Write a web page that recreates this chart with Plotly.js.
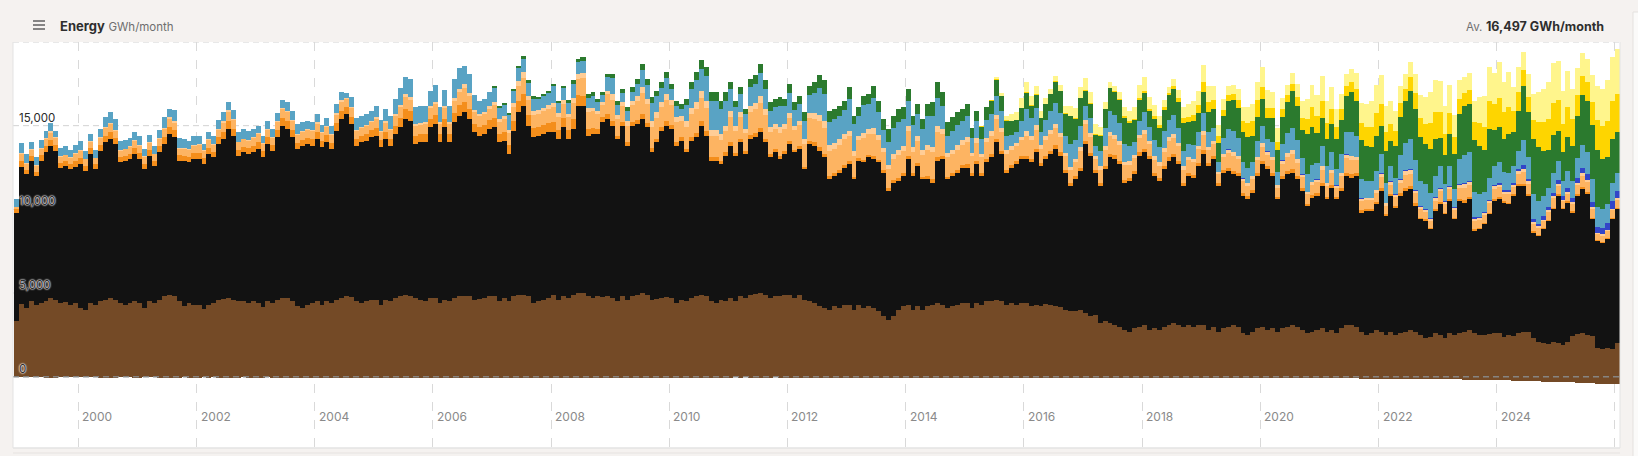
<!DOCTYPE html>
<html>
<head>
<meta charset="utf-8">
<script src="https://cdn.plot.ly/plotly-3.0.1.min.js"></script>
<style>
html,body{margin:0;padding:0;background:#F5F2F0;overflow:hidden;}
#chart{width:1638px;height:456px;}
</style>
</head>
<body>
<div id="chart"></div>
<script>
// ---------- DATA (GWh per month) ----------
// Monthly series from Dec 1998 to Jan 2026 unless a start month is given.
const seriesStart = [1998, 12];

const brownCoal = [
 3300,
 4360,4100,4500,4300,4400,4500,4700,4600,4400,4450,4300,4400, // 1999
 4100,4000,4400,4300,4500,4600,4700,4600,4400,4300,4400,4500, // 2000
 4400,4100,4500,4400,4600,4800,4900,4850,4500,4200,4400,4300, // 2001
 4300,4050,4300,4400,4600,4650,4700,4600,4500,4500,4400,4500, // 2002
 4400,4150,4500,4400,4600,4700,4700,4500,4200,4100,4300,4400, // 2003
 4500,4300,4550,4400,4600,4700,4800,4750,4500,4400,4500,4600, // 2004
 4600,4300,4600,4500,4700,4800,4900,4850,4700,4600,4500,4700, // 2005
 4700,4400,4600,4500,4700,4800,4850,4800,4600,4650,4700,4800, // 2006
 4800,4500,4700,4500,4800,4900,4900,4800,4400,4500,4600,4700, // 2007
 4900,4600,4800,4700,4900,5000,5000,4850,4700,4800,4750,4850, // 2008
 4700,4500,4800,4600,4800,4900,5000,4900,4600,4650,4700,4750, // 2009
 4700,4400,4600,4500,4700,4850,4900,4800,4500,4400,4600,4500, // 2010
 4700,4500,4800,4700,4900,4950,5000,4900,4700,4800,4850,4900, // 2011
 4900,4700,4900,4600,4500,4400,4200,4100,4000,4200,4100,4300, // 2012
 4300,4000,4300,4100,4200,4100,3900,3600,3400,3600,4000,4200, // 2013
 4300,4000,4200,4000,4200,4300,4400,4300,4100,4200,4300,4400, // 2014
 4400,4100,4400,4300,4500,4500,4600,4500,4300,4400,4300,4400, // 2015
 4400,4200,4300,4200,4350,4300,4250,4150,4000,3900,3950,4000, // 2016
 3800,3600,3700,3200,3300,3200,3100,3000,2800,2700,2900,3000, // 2017
 3100,2800,2900,2800,3000,3100,3200,3100,3000,3100,3000,3100, // 2018
 3100,2800,3000,2700,2900,3000,3100,3000,2600,2500,2700,2900, // 2019
 3000,2800,2900,2700,2900,3000,3100,3000,2800,2600,2700,2800, // 2020
 2900,2700,2800,2600,2900,3100,3100,3000,2700,2500,2600,2800, // 2021
 2700,2500,2700,2500,2600,2700,2800,2700,2500,2300,2400,2600, // 2022
 2500,2300,2600,2500,2600,2700,2800,2600,2500,2500,2550,2600, // 2023
 2600,2400,2500,2450,2600,2700,2650,2300,2100,2000,1950,2050, // 2024
 2000,1900,2050,2450,2550,2600,2500,2450,1700,1650,1700,1650, // 2025
 2000                                                          // 2026
];

const blackCoal = [
 6500,
 8180,8000,8360,7700,8500,8900,9060,8900,8100,8150,8100,8160,
 8600,8300,8900,8100,9000,9400,9500,9300,8400,8600,8600,8800,
 8600,8300,8700,8200,8800,9100,9600,9450,8400,8700,8400,8700,
 8700,8650,9000,8700,9300,9550,10100,9800,8700,8900,8900,8900,
 9200,8950,9400,9100,9700,10300,10100,9800,9400,9700,9600,9400,
 9700,9400,9450,9200,10100,10700,10900,10350,9300,9600,9600,9700,
 9800,9400,9600,9300,9800,10100,10500,10450,9200,9400,9500,10200,
 10400,9600,10300,9500,10500,10800,10950,10600,10000,9750,9800,10000,
 10100,9500,9400,8800,9900,10900,11300,10200,9900,9900,9900,9900,
 9700,9600,10100,9500,9900,11200,11200,9550,9800,9700,10450,10550,
 10300,9700,10200,9200,10200,10200,10400,10000,8800,9350,10000,10250,
 10100,9400,9500,8900,9400,9450,10100,9600,8400,8500,8100,8700,
 9100,8700,9200,8600,9300,9350,9600,9100,8400,8600,8150,8400,
 9000,8700,8700,7800,9400,9400,9300,9000,7800,7800,8100,8200,
 8400,7800,8600,8700,8900,8900,8900,8600,7700,8000,7700,7800,
 8700,8000,8400,7800,7600,7300,8500,8700,7700,7800,7900,8100,
 8100,7900,8300,7700,8300,8600,9400,8800,7900,8100,8400,8600,
 8600,8600,9100,8400,8650,9000,9350,9050,8200,7500,7850,8300,
 10100,9600,8500,8200,9100,9900,9900,9700,8800,9000,9200,10200,
 10300,10200,9100,8900,9400,9800,9900,9600,8400,8900,8900,9500,
 10200,9800,10000,8700,9300,9300,9000,9000,8200,8100,8300,9100,
 9700,9600,9100,7900,8900,9100,9100,8800,8300,7600,8000,8000,
 8500,7900,8500,8000,8200,8900,8800,9000,7100,7400,7300,7500,
 8400,7100,8100,7600,8200,8400,8400,7500,6900,7000,6400,7300,
 7800,7400,7900,6900,7900,7700,7800,6100,6300,6600,7150,7900,
 8000,8000,7800,8350,8800,8700,8150,6300,6300,6800,7350,7950,
 8800,8100,8350,7350,8250,8600,8400,6950,6400,6350,6500,7750,
 8000
];

const gasSteam = [
 250,
 320,280,300,260,330,380,400,360,280,270,300,320,
 340,300,350,300,360,400,420,380,320,300,330,350,
 360,320,340,300,380,420,400,420,330,310,320,340,
 380,340,380,340,400,440,460,430,360,350,360,380,
 400,360,400,360,420,460,460,430,380,370,380,400,
 420,380,420,380,440,480,420,430,400,390,400,420,
 450,420,450,420,500,560,600,580,500,480,500,520,
 520,480,520,480,560,620,640,600,520,500,520,540,
 560,520,540,520,600,680,720,640,560,540,560,580,
 600,540,560,520,620,650,600,400,350,320,300,320,
 250,200,200,200,220,250,280,250,250,230,230,250,
 230,200,200,220,250,270,280,260,200,200,200,220,
 200,180,200,180,220,240,250,230,200,180,180,200,
 180,150,170,160,180,200,220,220,180,170,170,180,
 170,150,150,160,170,180,170,160,150,160,170,170,
 170,150,160,150,180,200,200,180,150,150,160,160,
 200,160,180,160,180,200,220,200,180,170,170,180,
 200,180,200,170,190,210,220,200,170,160,170,190,
 200,190,160,170,200,230,220,210,180,170,180,200,
 200,170,170,170,200,220,230,210,180,170,170,180,
 220,180,180,150,180,200,210,200,170,170,180,200,
 200,170,170,140,170,200,210,190,160,140,150,160,
 180,150,160,130,170,200,200,180,140,130,130,140,
 150,120,130,120,150,180,180,150,110,100,100,120,
 120,100,110,100,130,150,150,120,100,100,110,120,
 110,90,100,100,120,140,130,100,80,80,90,100,
 90,80,90,90,110,130,120,100,70,70,80,90,
 90
];

const gasCCGT = [
 100,
 420,360,380,340,380,420,430,400,350,360,380,400,
 420,380,400,360,400,450,460,430,380,380,400,420,
 440,400,420,380,420,480,500,470,400,400,420,440,
 460,420,450,400,460,520,540,500,440,430,440,460,
 480,440,470,430,490,530,540,520,460,450,460,480,
 500,460,490,450,510,540,480,520,480,470,480,500,
 550,500,530,500,580,650,700,680,600,580,600,620,
 650,600,640,600,700,780,800,760,680,650,660,680,
 750,700,740,720,820,900,950,880,800,780,800,820,
 900,800,850,800,950,950,1040,1010,1000,880,750,1150,
 1300,1000,950,1000,1000,1100,1300,1150,1300,1250,1200,1300,
 1200,1200,1000,1300,1350,1450,1400,1400,1300,1300,1250,1250,
 1500,1300,1300,1100,1400,1450,1500,1400,1300,1250,1400,1300,
 1400,1200,1250,1350,1350,1400,1550,1550,1500,1450,1500,1500,
 1500,1250,1100,1300,1250,1350,1200,1050,1150,1250,1350,1300,
 1500,1300,1350,1300,1550,1600,1550,1350,1150,1150,1200,1200,
 1300,1000,1100,950,1050,1100,1150,1100,950,900,900,950,
 1200,1150,1150,850,950,1000,1050,950,800,800,850,1000,
 1000,950,650,800,950,1050,1000,950,850,800,800,850,
 900,750,800,750,850,950,950,850,800,750,750,800,
 900,750,700,550,750,850,900,800,700,650,650,750,
 850,700,750,550,750,850,900,800,650,550,600,650,
 800,650,700,550,700,850,850,750,550,500,500,550,
 700,500,550,500,650,800,750,600,500,450,420,500,
 650,500,600,450,650,750,700,500,450,450,550,600,
 600,450,500,450,600,700,600,450,400,400,450,550,
 500,400,450,450,550,650,600,500,350,350,400,450,
 450
];

const gasOCGT = [
 20,
 60,40,40,30,40,60,70,50,30,30,40,60,
 60,50,50,30,50,60,80,60,40,40,50,60,
 60,50,50,30,60,80,100,80,40,40,50,60,
 70,60,60,40,70,90,110,80,50,50,60,70,
 70,60,60,50,70,90,100,80,60,50,60,70,
 80,60,70,50,80,90,60,80,70,60,70,80,
 100,80,90,80,120,150,180,160,120,110,120,150,
 150,120,140,120,170,220,240,200,150,140,150,170,
 200,160,180,180,240,300,330,260,200,190,200,220,
 250,200,220,200,280,280,300,220,200,170,150,230,
 350,250,250,250,250,300,350,300,350,330,300,350,
 300,300,250,350,350,400,400,400,350,350,330,330,
 350,300,300,250,350,350,400,350,300,300,350,300,
 300,250,280,300,300,330,380,380,350,330,330,330,
 330,280,250,300,280,320,280,240,270,300,320,300,
 320,280,300,280,330,350,330,290,250,250,260,260,
 300,230,260,220,250,270,280,260,220,200,200,220,
 280,270,270,200,220,240,250,230,190,190,200,240,
 250,230,160,200,230,260,250,230,200,190,190,200,
 220,180,190,180,210,230,230,210,190,180,180,190,
 250,200,180,140,190,220,230,200,170,160,160,190,
 220,180,190,140,190,220,230,200,170,150,160,170,
 200,170,180,140,180,220,220,190,140,130,130,140,
 180,130,150,130,170,220,200,160,130,120,110,130,
 150,120,140,110,160,190,180,130,110,110,130,150,
 140,110,120,110,150,180,150,110,100,100,110,130,
 120,100,110,110,140,170,160,130,90,90,100,110,
 110
];

const hydro = [
 450,
 600,500,450,520,480,450,500,400,500,540,420,500,
 550,480,420,460,520,580,650,600,560,520,480,500,
 500,450,430,480,500,620,500,650,600,560,520,520,
 450,400,450,480,520,560,500,520,600,560,520,480,
 450,400,420,450,500,480,520,560,580,540,500,470,
 500,450,480,500,560,500,300,600,700,680,620,560,
 700,650,750,800,900,1000,1000,1050,1000,1030,980,900,
 1000,900,950,1000,1150,1200,1100,1100,900,800,750,800,
 850,700,700,900,700,750,800,800,750,700,700,720,
 1000,620,700,620,870,720,750,650,730,550,420,800,
 950,600,550,600,550,750,1000,850,1050,950,850,950,
 650,700,450,950,1150,1300,1300,1500,1700,1700,1500,1500,
 1350,1150,1100,850,1150,1150,1400,1200,1000,1000,1250,1100,
 1200,950,1000,1050,1100,1250,1600,1650,1400,1450,1400,1450,
 1900,1600,1200,1650,1500,1800,1350,1100,1350,1550,1700,1650,
 1500,1300,1300,1250,1700,1800,1700,1350,1050,1150,1200,1150,
 1300,900,1050,900,1050,1000,1100,1000,850,700,650,900,
 1300,1050,1050,800,1000,1100,1250,1150,1050,1350,1100,1250,
 850,900,600,900,1100,1250,1150,1050,1050,900,750,850,
 1100,800,1000,900,1000,1050,1100,900,900,800,850,850,
 1100,900,800,600,950,1200,1250,1050,950,900,800,900,
 1000,750,900,800,1000,1150,1300,1150,950,1050,1000,950,
 1150,1000,1050,950,1150,1300,1400,1250,1150,1000,1000,1100,
 1100,1200,900,1000,1400,1600,1800,1800,1500,1500,1500,1300,
 1300,1050,1200,1100,1500,1700,1700,1500,1350,1200,1300,1150,
 1300,1100,1050,1000,1100,1500,1300,1500,1350,1200,1100,1200,
 1100,900,1000,1000,1150,1400,1300,1400,1200,1100,1100,1100,
 1100
];

const windStart = [2007, 1];
const wind = [
 100,90,110,110,120,140,150,150,140,130,120,110,
 150,140,170,180,180,200,210,220,220,180,180,200,
 250,250,250,250,280,300,370,350,350,340,320,350,
 320,300,300,380,400,480,520,540,550,550,520,500,
 400,370,400,320,480,510,550,520,500,470,520,400,
 520,450,500,540,570,620,750,800,670,600,600,540,
 700,520,500,590,600,750,700,650,780,740,760,680,
 710,570,590,620,740,850,920,830,800,800,780,730,
 700,560,600,720,770,830,1000,900,900,800,700,800,
 1000,750,780,820,940,1050,1250,1320,1300,1650,1300,1650,
 900,850,700,900,1100,1350,1400,1400,1600,1400,1300,1250,
 1100,950,1200,1150,1250,1450,1600,1550,1700,1300,1400,1150,
 1200,1200,1150,1100,1300,1700,1800,1800,1800,1800,1600,1450,
 1600,1250,1400,1300,1600,1900,2200,2000,1700,2400,2300,1800,
 1700,1600,1700,1800,2000,2200,2400,2050,2300,2100,2000,2100,
 1700,1900,1500,1900,2300,2500,2900,3000,2600,2400,2600,2200,
 1700,1700,1900,2100,2700,2900,2900,3100,2900,2500,2900,2100,
 2100,1950,2300,2000,2400,3250,2700,3300,3200,2700,2300,2300,
 1800,1700,2000,2100,2500,3000,3100,3200,3400,3000,2800,2600,
 2400
];

const solarStart = [2015, 1];
const solarUtility = [
 10,10,10,10,10,10,10,10,15,20,20,25,
 30,30,30,25,25,20,20,25,35,40,45,50,
 50,50,50,45,40,35,40,50,70,90,100,110,
 150,140,180,180,170,150,170,200,280,330,400,430,
 650,550,480,400,380,330,360,450,650,850,850,1000,
 700,600,600,500,450,400,450,550,700,900,1200,1000,
 1000,950,900,750,650,550,600,750,1050,1100,1200,1400,
 1300,1150,1000,900,850,750,800,1000,1150,1200,1600,1600,
 1500,1300,1250,1000,900,800,850,1100,1400,1400,1700,1600,
 1700,1600,1600,1250,1100,900,900,1150,1500,1700,1850,1900,
 1900,1700,1800,1600,1300,1100,1100,1400,1800,2000,2200,2300,
 2300
];

const rooftopStart = [2015, 7];
const rooftopSolar = [
 120,180,280,380,500,560,
 620,560,520,420,330,280,300,370,460,560,620,650,
 700,620,600,480,380,320,340,420,540,640,700,750,
 800,700,700,560,450,380,400,500,650,770,830,860,
 1020,960,840,700,620,530,560,680,870,1000,1060,1100,
 1200,1050,1000,800,700,600,650,800,1000,1200,1300,1250,
 1500,1350,1300,1050,900,750,800,950,1200,1400,1550,1650,
 1720,1550,1420,1200,1000,850,900,1100,1400,1600,1800,1900,
 1900,1650,1650,1300,1100,950,1000,1250,1550,1800,2000,1850,
 2150,1800,2100,1450,1500,1100,1400,1550,1800,2000,2200,2400,
 2300,2000,2150,1800,1600,1400,1400,1600,2000,2200,2400,2600,
 2700
];

const batteryStart = [2018, 1];
const battery = [
 10,10,10,10,10,10,10,10,10,10,10,10,
 15,15,15,15,15,15,15,15,15,15,15,15,
 20,20,20,20,20,20,20,20,20,25,25,25,
 30,30,30,30,30,30,35,35,35,35,40,40,
 50,50,50,50,50,60,60,60,60,60,60,60,
 70,60,70,70,80,80,80,80,80,90,90,100,
 100,100,130,140,130,230,120,140,170,220,200,190,
 250,220,250,250,300,300,320,300,350,400,420,450,
 450
];

// Pumps and battery charging (drawn below zero)
const pumpsCharging = [
 -20,
 -40,-35,-40,-30,-45,-50,-55,-50,-40,-35,-40,-45,
 -45,-40,-35,-40,-50,-55,-60,-50,-45,-40,-45,-50,
 -50,-45,-40,-45,-55,-60,-65,-55,-50,-45,-50,-55,
 -50,-45,-50,-45,-55,-60,-60,-55,-50,-45,-50,-55,
 -55,-50,-45,-50,-60,-65,-60,-55,-50,-50,-55,-60,
 -60,-50,-55,-50,-60,-70,-65,-60,-55,-50,-55,-60,
 -60,-55,-60,-55,-65,-70,-70,-65,-60,-55,-60,-65,
 -65,-60,-60,-55,-70,-75,-70,-65,-60,-60,-65,-70,
 -70,-60,-65,-60,-70,-80,-75,-70,-65,-60,-65,-70,
 -70,-65,-70,-60,-75,-80,-80,-70,-65,-65,-70,-75,
 -60,-55,-60,-55,-65,-70,-70,-65,-55,-55,-60,-65,
 -55,-50,-55,-50,-60,-65,-65,-60,-50,-50,-55,-60,
 -50,-45,-50,-45,-55,-60,-60,-55,-50,-45,-50,-55,
 -55,-50,-55,-60,-60,-65,-70,-65,-60,-55,-60,-60,
 -60,-55,-60,-60,-65,-70,-70,-65,-60,-60,-65,-65,
 -60,-55,-60,-55,-65,-70,-70,-65,-60,-55,-60,-60,
 -55,-50,-55,-50,-60,-65,-65,-60,-55,-55,-60,-60,
 -60,-55,-60,-55,-65,-70,-70,-65,-60,-65,-65,-65,
 -65,-60,-65,-60,-70,-75,-75,-70,-65,-70,-70,-70,
 -70,-65,-70,-65,-75,-80,-80,-75,-70,-75,-75,-75,
 -75,-70,-75,-70,-80,-85,-85,-80,-80,-85,-85,-80,
 -80,-75,-80,-75,-85,-90,-90,-85,-90,-100,-95,-90,
 -95,-90,-95,-100,-100,-105,-105,-100,-110,-115,-115,-110,
 -115,-110,-120,-125,-125,-130,-130,-135,-145,-150,-150,-145,
 -145,-140,-150,-160,-165,-170,-170,-175,-190,-200,-205,-200,
 -200,-195,-215,-230,-235,-250,-245,-255,-280,-300,-310,-300,
 -310,-300,-330,-340,-350,-370,-370,-380,-410,-430,-440,-440,
 -430
];

const yTickVals = [0, 5000, 10000, 15000, 20000];
const yTickText = ['0', '5,000', '10,000', '15,000', ''];
const xTickYears = [2000, 2002, 2004, 2006, 2008, 2010, 2012, 2014, 2016, 2018, 2020, 2022, 2024];
const gridYears = [2000, 2002, 2004, 2006, 2008, 2010, 2012, 2014, 2016, 2018, 2020, 2022, 2024, 2026];
const titleText = 'Energy';
const unitText = 'GWh/month';
const averageText = '16,497 GWh/month';

// ---------- helpers ----------
function monthSeq(start, n) {
  const xs = [], ws = [];
  for (let i = 0; i < n; i++) {
    const k = start[1] - 1 + i;
    const y = start[0] + Math.floor(k / 12), m = k % 12;
    const s = Date.UTC(y, m, 1), e = Date.UTC(y, m + 1, 1);
    xs.push(s + (e - s) / 2);
    ws.push(e - s);
  }
  return { x: xs, w: ws };
}

function barTrace(name, values, start, color) {
  const seq = monthSeq(start, values.length);
  return {
    type: 'bar', name: name, x: seq.x, y: values, width: seq.w,
    marker: { color: color, line: { width: 0 } },
    hoverinfo: 'skip'
  };
}

const traces = [
  barTrace('Coal (Brown)', brownCoal, seriesStart, '#744A26'),
  barTrace('Coal (Black)', blackCoal, seriesStart, '#121212'),
  barTrace('Gas (Steam)', gasSteam, seriesStart, '#F48E1B'),
  barTrace('Gas (CCGT)', gasCCGT, seriesStart, '#FDB462'),
  barTrace('Gas (OCGT)', gasOCGT, seriesStart, '#FFCD96'),
  barTrace('Battery (Discharging)', battery, batteryStart, '#3245C8'),
  barTrace('Hydro', hydro, seriesStart, '#59A3C4'),
  barTrace('Wind', wind, windStart, '#2B7A2E'),
  barTrace('Solar (Utility)', solarUtility, solarStart, '#FED500'),
  barTrace('Solar (Rooftop)', rooftopSolar, rooftopStart, '#FFF58C'),
  barTrace('Pumps & Battery (Charging)', pumpsCharging, seriesStart, '#744A26')
];

// ---------- layout ----------
const W = 1638, H = 456;
const mL = 13, mR = 18, mT = 42, mB = 8;
const pw = W - mL - mR, ph = H - mT - mB;
const px2x = p => (p - mL) / pw;
const px2y = p => (H - mB - p) / ph;

const shapes = [];
// horizontal grid: dashed, under the bars; the zero line sits on top
yTickVals.forEach(v => {
  shapes.push({
    type: 'line', xref: 'paper', x0: 0, x1: 1, yref: 'y', y0: v, y1: v,
    layer: v === 0 ? 'above' : 'below',
    line: v === 0 ? { color: 'rgba(135,135,135,0.95)', width: 1.6, dash: '6px,4px' }
                  : { color: '#D2D2D2', width: 1, dash: '6px,4px' }
  });
});
// box borders
shapes.push({ type: 'line', xref: 'paper', yref: 'paper', x0: 0, x1: 0, y0: 0, y1: 1, line: { color: '#E3E3E3', width: 1 }, layer: 'above' });
shapes.push({ type: 'line', xref: 'paper', yref: 'paper', x0: 1, x1: 1, y0: 0, y1: 1, line: { color: '#E3E3E3', width: 1 }, layer: 'above' });
shapes.push({ type: 'line', xref: 'paper', yref: 'paper', x0: 0, x1: 1, y0: 0, y1: 0, line: { color: '#E3E3E3', width: 1.5 }, layer: 'above' });
shapes.push({ type: 'line', xref: 'paper', yref: 'paper', x0: 0, x1: 1, y0: px2y(453), y1: px2y(453), line: { color: '#E6E3E1', width: 1 }, layer: 'above' });
// right-hand panel edge
shapes.push({ type: 'rect', xref: 'paper', yref: 'paper', x0: px2x(1633), x1: px2x(1640), y0: px2y(460), y1: px2y(12), fillcolor: '#FBFAF9', line: { color: '#E4E1DF', width: 1 }, layer: 'above' });
// hamburger icon
[21, 25, 29].forEach(py => {
  shapes.push({ type: 'line', xref: 'paper', yref: 'paper', x0: px2x(33), x1: px2x(45), y0: px2y(py), y1: px2y(py), line: { color: '#555', width: 1.4 } });
});

const annotations = [];
xTickYears.forEach(yr => {
  annotations.push({
    x: Date.UTC(yr, 0, 1), xref: 'x', y: -2400, yref: 'y',
    text: String(yr), showarrow: false, xanchor: 'left', yanchor: 'middle', xshift: 2,
    font: { size: 12, color: '#8A8A8A', family: 'Inter, "DejaVu Sans", sans-serif' }
  });
});
annotations.push({
  x: px2x(58), y: px2y(26), xref: 'paper', yref: 'paper', xanchor: 'left', yanchor: 'middle', showarrow: false,
  text: '<b>' + titleText + '</b> <span style="font-size:11.5px;color:#6E6E6E">' + unitText + '</span>',
  font: { size: 13, color: '#2E2E2E', family: 'Inter, "DejaVu Sans", sans-serif' }
});
annotations.push({
  x: px2x(1606), y: px2y(26), xref: 'paper', yref: 'paper', xanchor: 'right', yanchor: 'middle', showarrow: false,
  text: '<span style="color:#707070;font-size:11.5px">Av.</span> <b>' + averageText + '</b>',
  font: { size: 12.5, color: '#2E2E2E', family: 'Inter, "DejaVu Sans", sans-serif' }
});

const layout = {
  width: W, height: H,
  margin: { l: mL, r: mR, t: mT, b: mB, pad: 0 },
  paper_bgcolor: '#F5F2F0',
  plot_bgcolor: '#FFFFFF',
  barmode: 'relative', bargap: 0,
  showlegend: false,
  font: { family: 'Inter, "DejaVu Sans", sans-serif', size: 12, color: '#333' },
  xaxis: {
    type: 'date',
    range: ['1998-11-24', '2026-02-01'],
    tickmode: 'array',
    tickvals: gridYears.map(y => Date.UTC(y, 0, 1)),
    showticklabels: false,
    showgrid: true, gridcolor: '#D9D9D9', griddash: 'dash', gridwidth: 1,
    zeroline: false, showline: false, ticks: '', fixedrange: true
  },
  yaxis: {
    range: [-(H - mB - 376.7) / (376.7 - mT) * 20000, 20000],
    tickmode: 'array', tickvals: yTickVals, ticktext: yTickText,
    ticklabelposition: 'inside top', ticklabelstandoff: 3,
    showgrid: false, zeroline: false, showline: false, ticks: '',
    layer: 'above traces', fixedrange: true,
    tickfont: { size: 11.5, color: '#2A2A2A', shadow: '0px 0px 2px #ffffff, 0px 0px 2px #ffffff, 0px 0px 1px #ffffff' }
  },
  shapes: shapes,
  annotations: annotations
};

Plotly.newPlot('chart', traces, layout, { displayModeBar: false, staticPlot: true });
</script>
</body>
</html>
